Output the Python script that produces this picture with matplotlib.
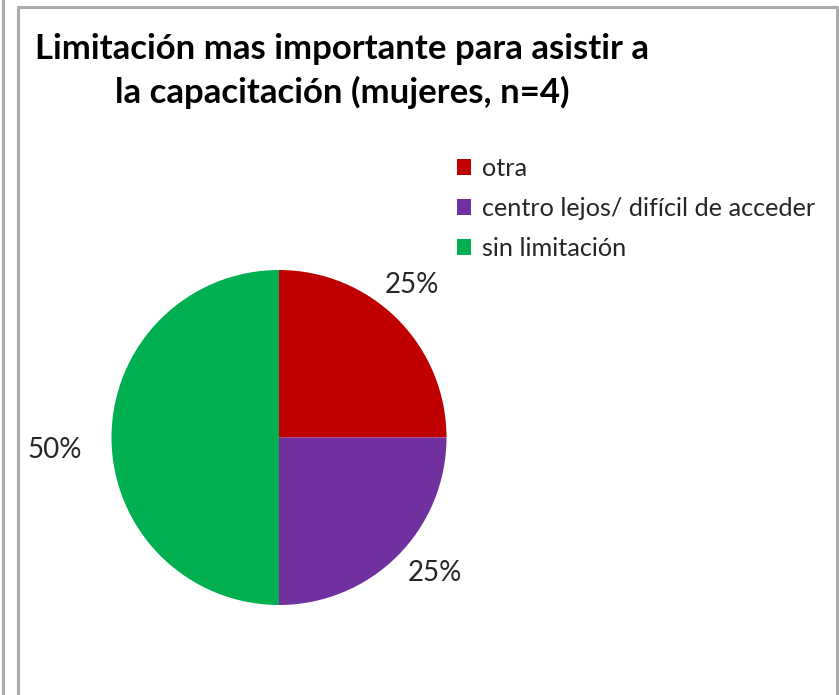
import matplotlib
matplotlib.use("Agg")
import matplotlib.pyplot as plt
from matplotlib.lines import Line2D
import numpy as np

categories = ["otra", "centro lejos/ difícil de acceder", "sin limitación"]
values = [1, 1, 2]
colors = ["#C00000", "#7030A0", "#00B050"]
title = "Limitación mas importante para asistir a\nla capacitación (mujeres, n=4)"

W, H = 839, 695
fig = plt.figure(figsize=(W / 100, H / 100), dpi=100)
fig.patch.set_facecolor("white")

# frame lines
gc = "#ababab"
fig.add_artist(Line2D([2.5 / W, 2.5 / W], [0, 1], color=gc, lw=2.2))
fig.add_artist(Line2D([17.5 / W, 17.5 / W, 836.5 / W, 836.5 / W],
                      [0, 1 - 6.5 / H, 1 - 6.5 / H, 0], color=gc, lw=2.2))

cx, cy, r = 279, 437.5, 167.5
ax = fig.add_axes([(cx - r) / W, (H - cy - r) / H, 2 * r / W, 2 * r / H])
wedges, _ = ax.pie(values, colors=colors, startangle=90, counterclock=False,
                   radius=1, wedgeprops=dict(linewidth=0))
ax.set_xlim(-1, 1)
ax.set_ylim(-1, 1)
ax.set_aspect("equal")
ax.axis("off")

total = sum(values)
dist = [1.21, 1.23, 1.34]
ang_off = [4, 4, 3.3]
for w, v, d, off in zip(wedges, values, dist, ang_off):
    mid = np.deg2rad((w.theta1 + w.theta2) / 2 + off)
    ax.text(d * np.cos(mid), d * np.sin(mid), f"{v / total:.0%}",
            ha="center", va="center", fontsize=20, family="Lato",
            color="#262626")

fig.text(342 / W, 1 - 71 / H, title, ha="center", va="center",
         fontsize=25, fontweight="bold", family="Lato", color="black",
         linespacing=1.37)

leg = fig.legend(wedges, categories, loc="upper left",
                 bbox_to_anchor=(457 / W, 1 - 157 / H), frameon=False,
                 prop=dict(family="Lato", size=18.2), handlelength=0.55,
                 handleheight=0.55, handletextpad=0.45, labelspacing=0.67,
                 borderaxespad=0, borderpad=0)
for t in leg.get_texts():
    t.set_color("#262626")

fig.savefig("out.png", dpi=100, facecolor="white")
